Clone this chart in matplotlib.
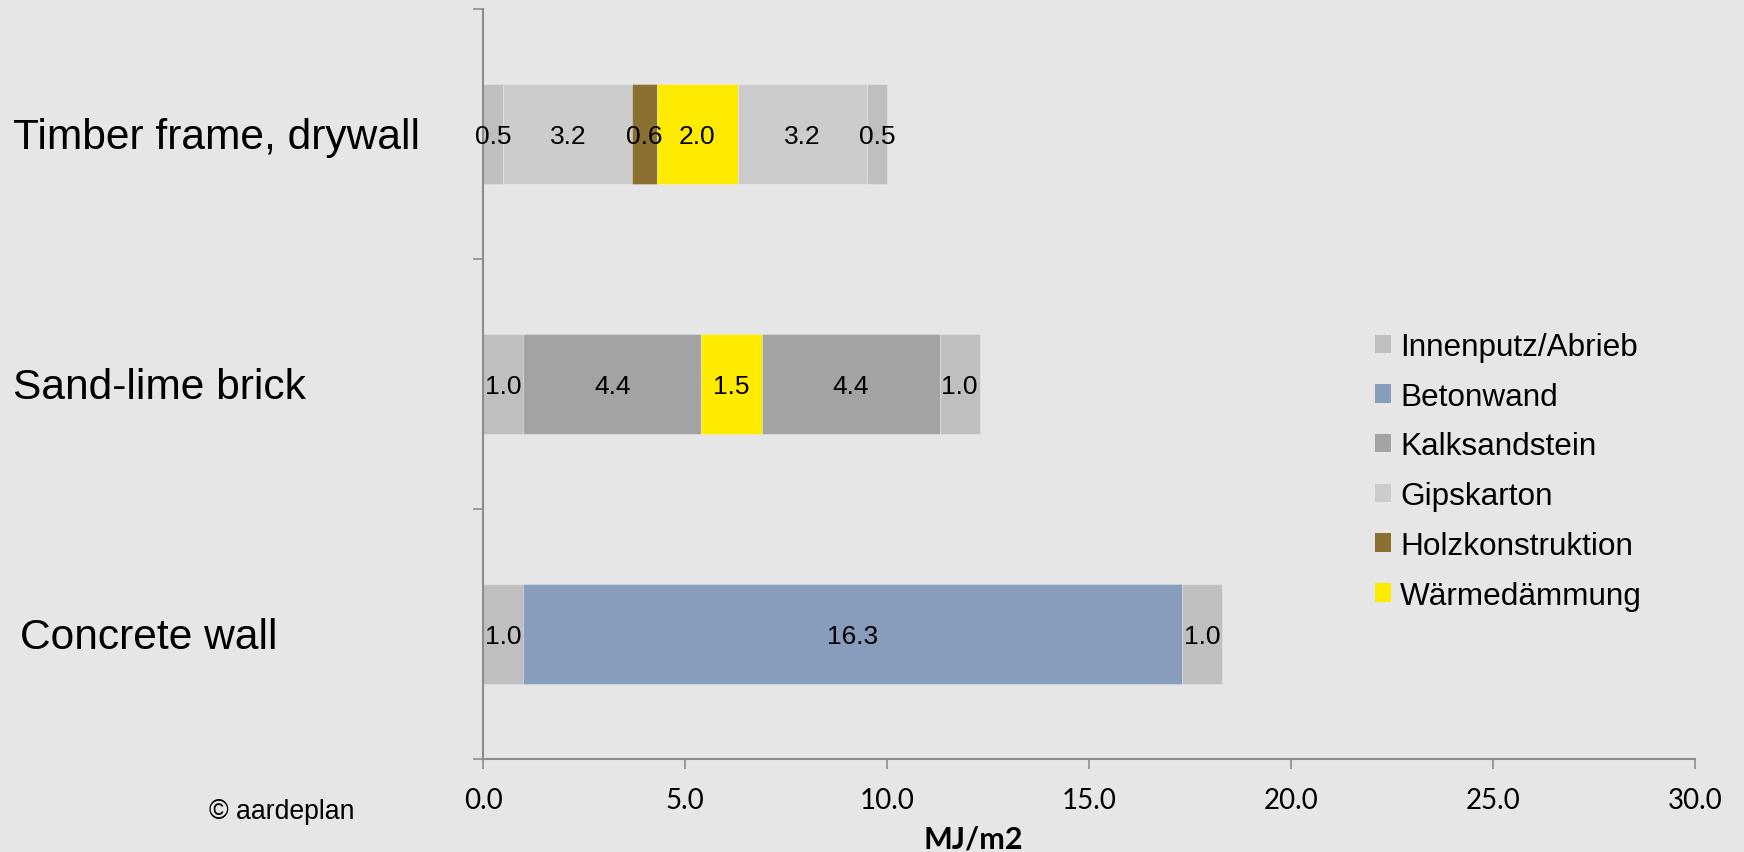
import matplotlib
matplotlib.use("Agg")
import matplotlib.pyplot as plt
from matplotlib.patches import Patch
from matplotlib.transforms import blended_transform_factory

# Wall types, top to bottom
walls = ["Timber frame, drywall", "Sand-lime brick", "Concrete wall"]

# Materials (legend order) and their fill colours
materials = ["Innenputz/Abrieb", "Betonwand", "Kalksandstein",
             "Gipskarton", "Holzkonstruktion", "Wärmedämmung"]
material_colors = ["#BFBFBF", "#889DBB", "#A3A3A3",
                   "#CCCCCC", "#8A6F30", "#FFEB00"]

# Layer build-up of each wall, inside to outside (MJ/m2)
timber_layers = ["Innenputz/Abrieb", "Gipskarton", "Holzkonstruktion",
                 "Wärmedämmung", "Gipskarton", "Innenputz/Abrieb"]
timber_values = [0.5, 3.2, 0.6, 2.0, 3.2, 0.5]

sandlime_layers = ["Innenputz/Abrieb", "Kalksandstein", "Wärmedämmung",
                   "Kalksandstein", "Innenputz/Abrieb"]
sandlime_values = [1.0, 4.4, 1.5, 4.4, 1.0]

concrete_layers = ["Innenputz/Abrieb", "Betonwand", "Innenputz/Abrieb"]
concrete_values = [1.0, 16.3, 1.0]

x_ticks = [0, 5, 10, 15, 20, 25, 30]
x_label = "MJ/m2"
credit = "© aardeplan"

BG = "#E6E6E6"
AXIS = "#8C8C8C"
color_of = dict(zip(materials, material_colors))

fig = plt.figure(figsize=(17.44, 8.53), dpi=100, facecolor=BG)
W, H = 1744, 853
ax = fig.add_axes([483 / W, (H - 760) / H, (1695 - 483) / W, (760 - 10) / H])
ax.set_facecolor(BG)

builds = [(timber_layers, timber_values),
          (sandlime_layers, sandlime_values),
          (concrete_layers, concrete_values)]

for row, (layers, values) in enumerate(builds):
    left = 0.0
    for mat, val in zip(layers, values):
        ax.barh(row, val, left=left, height=0.4, color=color_of[mat],
                edgecolor=(1, 1, 1, 0.25), linewidth=0.8, zorder=2)
        ax.text(left + val / 2, row + 0.008, f"{val:.1f}", ha="center", va="center",
                fontsize=19, family="Liberation Sans", color="black", zorder=3)
        left += val

ax.set_xlim(0, 30)
ax.set_ylim(2.5, -0.5)

# x axis
ax.set_xticks(x_ticks)
ax.set_xticklabels([f"{v:.1f}" for v in x_ticks], family="Lato", fontsize=20)
ax.tick_params(axis="x", direction="out", length=7, width=1.2, color=AXIS, pad=13)

# y axis: ticks between categories, small inner marks at the centres
ax.set_yticks([-0.5, 0.5, 1.5, 2.5])
ax.set_yticklabels([])
ax.tick_params(axis="y", which="major", direction="out", length=7, width=1.2, color=AXIS)
ax.set_yticks([0, 1, 2], minor=True)
ax.tick_params(axis="y", which="minor", direction="in", length=3, width=1, color=AXIS)

for side in ("top", "right"):
    ax.spines[side].set_visible(False)
for side in ("left", "bottom"):
    ax.spines[side].set_color(AXIS)
    ax.spines[side].set_linewidth(1.5)

# category names, left aligned near the figure edge
trans = blended_transform_factory(fig.transFigure, ax.transData)
label_x = [13, 13, 20]
for row, (name, lx) in enumerate(zip(walls, label_x)):
    ax.text(lx / W, row + 0.012, name, transform=trans, ha="left", va="center",
            fontsize=30.6, family="Liberation Sans", color="black")

fig.text(973 / W, (H - 840) / H, x_label, ha="center", va="center",
         fontsize=22, fontweight="bold", family="Lato")
fig.text(209 / W, (H - 812) / H, credit, ha="left", va="center",
         fontsize=19.2, family="Liberation Sans")

handles = [Patch(facecolor=c, edgecolor="none") for c in material_colors]
fig.legend(handles, materials, loc="upper left",
           bbox_to_anchor=(1375 / W, (H - 333) / H),
           frameon=False, prop={"family": "Liberation Sans", "size": 22.7},
           handlelength=0.52, handleheight=0.52, handletextpad=0.28,
           labelspacing=0.625, borderpad=0, borderaxespad=0)

fig.savefig("out.png", dpi=100, facecolor=BG)
